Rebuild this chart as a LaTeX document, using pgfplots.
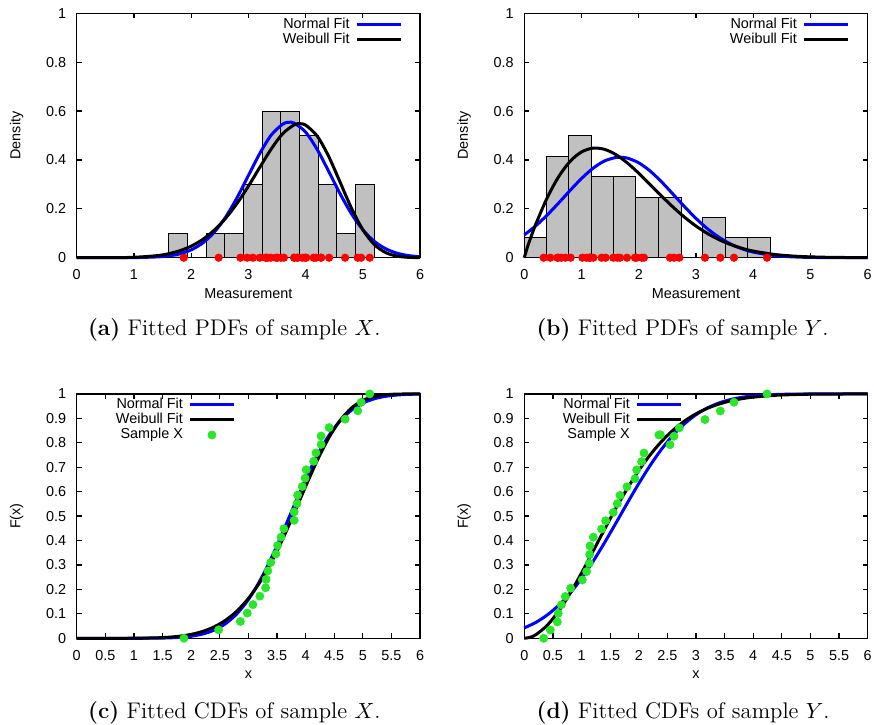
\documentclass[border=0pt]{standalone}
\usepackage{pgfplots}
\pgfplotsset{compat=1.18}
\usepackage{fontspec}
\newfontfamily\arialf{Liberation Sans}
\newcommand\lbl{\arialf\fontsize{7.2}{8.6}\selectfont}
\definecolor{bargray}{RGB}{192,192,192}
\definecolor{ptgreen}{RGB}{40,230,40}
\definecolor{fitblue}{RGB}{0,0,255}
\pgfplotsset{
  gp/.style={
    scale only axis, width=171.7pt, height=122.2pt,
    xmin=0, xmax=6, ymin=0, ymax=1, enlargelimits=false, clip=false,
    axis line style={line width=0.65pt},
    tick align=inside, tick pos=both, major tick length=2.5pt,
    every tick/.style={black, line width=0.6pt},
    /pgf/number format/assume math mode=true,
    tick label style={font=\lbl},
    xticklabel style={yshift=-2.5pt},
    yticklabel style={xshift=-1.8pt},
    label style={font=\lbl},
    ylabel style={at={(axis description cs:-0.175,0.5)}, anchor=center},
    xlabel style={at={(axis description cs:0.5,-0.1485)}, anchor=center},
    legend cell align=right,
    legend plot pos=right,
    legend image code/.code={\draw[mark repeat=2,mark phase=2,##1] plot coordinates {(0pt,0pt) (10.75pt,0pt) (21.5pt,0pt)};},
    legend style={draw=none, fill=none, font=\lbl, inner sep=0pt, row sep=0pt, column sep=2pt,
      nodes={text height=5.3pt, text depth=1.5pt, inner ysep=0.35pt, inner xsep=1pt}},
  },
  fitN/.style={color=fitblue, line width=1.5pt, smooth, no marks},
  fitW/.style={color=black, line width=1.5pt, smooth, no marks},
  hist/.style={ybar interval, fill=bargray, draw=black, line width=0.5pt, forget plot},
  reddots/.style={only marks, mark=*, mark size=1.85pt, color=red, forget plot},
  greendots/.style={only marks, mark=*, mark size=2pt, color=ptgreen},
}
\begin{document}
\begin{tikzpicture}
\useasboundingbox (0,0) rectangle (437pt,362pt);
% ---------------- (a) ----------------
\begin{axis}[gp, at={(38.35pt,233.15pt)}, anchor=south west,
  xtick={0,1,2,3,4,5,6}, ytick={0,0.2,0.4,0.6,0.8,1},
  xlabel={Measurement}, ylabel={Density},
  legend style={at={(axis description cs:0.9476,0.987)}, anchor=north east}]
\addplot[hist] coordinates {(1.61,0.1) (1.936,0) (2.262,0.1) (2.588,0.1) (2.914,0.3) (3.24,0.6) (3.566,0.6) (3.892,0.5) (4.218,0.3) (4.544,0.1) (4.87,0.3) (5.196,0)};
\addplot[fitN] coordinates {(0,0) (0.6,0.0000) (1.0,0.0004) (1.4,0.0031) (1.6,0.0073) (1.8,0.0158) (2.0,0.0320) (2.2,0.0597) (2.4,0.1032) (2.6,0.1652) (2.8,0.2449) (3.0,0.3361) (3.2,0.4269) (3.4,0.5020) (3.6,0.5465) (3.7,0.5539) (3.8,0.5507) (4.0,0.5138) (4.2,0.4437) (4.4,0.3547) (4.6,0.2625) (4.8,0.1799) (5.0,0.1141) (5.2,0.0670) (5.4,0.0364) (5.6,0.0183) (5.8,0.0085) (6.0,0.0037)};
\addlegendentry{Normal Fit}
\addplot[fitW] coordinates {(0,0) (0.6,0.0001) (1.0,0.0016) (1.4,0.0083) (1.6,0.0160) (1.8,0.0284) (2.0,0.0472) (2.2,0.0744) (2.4,0.1118) (2.6,0.1608) (2.8,0.2216) (3.0,0.2928) (3.2,0.3700) (3.4,0.4452) (3.6,0.5074) (3.8,0.5436) (3.9,0.5482) (4.0,0.5424) (4.2,0.4983) (4.4,0.4158) (4.6,0.3102) (4.8,0.2031) (5.0,0.1143) (5.2,0.0539) (5.4,0.0208) (5.6,0.0063) (5.8,0.0015) (6.0,0.0002)};
\addlegendentry{Weibull Fit}
\addplot[reddots] coordinates {(1.87,0) (2.48,0) (2.86,0) (2.98,0) (3.08,0) (3.20,0) (3.30,0) (3.31,0) (3.34,0) (3.39,0) (3.48,0) (3.51,0) (3.57,0) (3.62,0) (3.80,0) (3.80,0) (3.85,0) (3.86,0) (3.94,0) (3.99,0) (4.01,0) (4.14,0) (4.18,0) (4.27,0) (4.27,0) (4.41,0) (4.69,0) (4.91,0) (4.97,0) (5.12,0)};
\end{axis}
% ---------------- (b) ----------------
\begin{axis}[gp, at={(262.15pt,233.15pt)}, anchor=south west,
  xtick={0,1,2,3,4,5,6}, ytick={0,0.2,0.4,0.6,0.8,1},
  xlabel={Measurement}, ylabel={Density},
  legend style={at={(axis description cs:0.9465,0.987)}, anchor=north east}]
\addplot[hist] coordinates {(0,0.083) (0.39,0.416) (0.775,0.498) (1.171,0.331) (1.561,0.331) (1.951,0.248) (2.342,0.248) (2.738,0) (3.122,0.166) (3.513,0.083) (3.903,0.083) (4.293,0)};
\addplot[fitN] coordinates {(0,0.0934) (0.2,0.1304) (0.4,0.1746) (0.6,0.2238) (0.8,0.2751) (1.0,0.3240) (1.2,0.3657) (1.4,0.3957) (1.6,0.4102) (1.67,0.4113) (1.8,0.4076) (2.0,0.3882) (2.2,0.3543) (2.4,0.3099) (2.6,0.2597) (2.8,0.2087) (3.0,0.1607) (3.2,0.1185) (3.4,0.0839) (3.6,0.0568) (3.8,0.0369) (4.0,0.0230) (4.4,0.0078) (4.8,0.0023) (5.2,0.0005) (5.6,0.0001) (6.0,0.0000)};
\addlegendentry{Normal Fit}
\addplot[fitW] coordinates {(0,0) (0.05,0.0398) (0.1,0.0740) (0.2,0.1367) (0.4,0.2451) (0.6,0.3314) (0.8,0.3941) (1.0,0.4327) (1.2,0.4483) (1.4,0.4435) (1.6,0.4219) (1.8,0.3878) (2.0,0.3455) (2.2,0.2990) (2.4,0.2519) (2.6,0.2068) (2.8,0.1656) (3.0,0.1295) (3.2,0.0990) (3.4,0.0740) (3.6,0.0541) (3.8,0.0387) (4.0,0.0271) (4.4,0.0125) (4.8,0.0053) (5.2,0.0021) (5.6,0.0008) (6.0,0.0003)};
\addlegendentry{Weibull Fit}
\addplot[reddots] coordinates {(0.338,0) (0.454,0) (0.577,0) (0.594,0) (0.647,0) (0.717,0) (0.810,0) (1.014,0) (1.089,0) (1.136,0) (1.142,0) (1.148,0) (1.206,0) (1.351,0) (1.421,0) (1.555,0) (1.625,0) (1.672,0) (1.794,0) (1.934,0) (1.963,0) (2.050,0) (2.091,0) (2.546,0) (2.616,0) (2.709,0) (3.157,0) (3.425,0) (3.664,0) (4.241,0)};
\end{axis}
% ---------------- (c) ----------------
\begin{axis}[gp, at={(38.35pt,42.85pt)}, anchor=south west,
  xtick={0,0.5,1,1.5,2,2.5,3,3.5,4,4.5,5,5.5,6}, ytick={0,0.1,0.2,0.3,0.4,0.5,0.6,0.7,0.8,0.9,1},
  xlabel={x}, ylabel={F(x)},
  legend style={at={(axis description cs:0.462,0.987)}, anchor=north east}]
\addplot[fitN] coordinates {(0,0) (1.0,0.0001) (1.4,0.0006) (1.6,0.0016) (1.8,0.0038) (2.0,0.0085) (2.2,0.0174) (2.4,0.0334) (2.6,0.0599) (2.8,0.1006) (3.0,0.1587) (3.2,0.2351) (3.4,0.3284) (3.6,0.4338) (3.8,0.5442) (4.0,0.6513) (4.2,0.7475) (4.4,0.8275) (4.6,0.8892) (4.8,0.9332) (5.0,0.9623) (5.2,0.9801) (5.4,0.9902) (5.6,0.9955) (5.8,0.9981) (6.0,0.9992)};
\addlegendentry{Normal Fit}
\addplot[fitW] coordinates {(0,0) (1.0,0.0003) (1.4,0.0020) (1.6,0.0043) (1.8,0.0087) (2.0,0.0161) (2.2,0.0281) (2.4,0.0466) (2.6,0.0736) (2.8,0.1116) (3.0,0.1630) (3.2,0.2292) (3.4,0.3108) (3.6,0.4064) (3.8,0.5120) (4.0,0.6213) (4.2,0.7261) (4.4,0.8180) (4.6,0.8908) (4.8,0.9420) (5.0,0.9733) (5.2,0.9896) (5.4,0.9967) (5.6,0.9992) (5.8,0.9998) (6.0,1.0)};
\addlegendentry{Weibull Fit}
\addplot[greendots] coordinates {(1.874,0) (2.48,0.0345) (2.86,0.069) (2.98,0.1034) (3.08,0.1379) (3.20,0.1724) (3.30,0.2069) (3.31,0.2414) (3.34,0.2759) (3.39,0.3103) (3.48,0.3448) (3.51,0.3793) (3.57,0.4138) (3.62,0.4483) (3.80,0.4828) (3.80,0.5172) (3.85,0.5517) (3.86,0.5862) (3.94,0.6207) (3.99,0.6552) (4.01,0.6897) (4.14,0.7241) (4.18,0.7586) (4.27,0.7931) (4.27,0.8276) (4.41,0.8621) (4.69,0.8966) (4.91,0.9310) (4.97,0.9655) (5.12,1.0)};
\addlegendentry{Sample X}
\end{axis}
% ---------------- (d) ----------------
\begin{axis}[gp, at={(262.15pt,42.85pt)}, anchor=south west,
  xtick={0,0.5,1,1.5,2,2.5,3,3.5,4,4.5,5,5.5,6}, ytick={0,0.1,0.2,0.3,0.4,0.5,0.6,0.7,0.8,0.9,1},
  xlabel={x}, ylabel={F(x)},
  legend style={at={(axis description cs:0.46,0.987)}, anchor=north east}]
\addplot[fitN] coordinates {(0,0.0426) (0.2,0.0648) (0.4,0.0952) (0.6,0.1350) (0.8,0.1849) (1.0,0.2449) (1.2,0.3140) (1.4,0.3904) (1.6,0.4712) (1.8,0.5533) (2.0,0.6331) (2.2,0.7076) (2.4,0.7742) (2.6,0.8312) (2.8,0.8780) (3.0,0.9148) (3.2,0.9426) (3.4,0.9627) (3.6,0.9767) (3.8,0.9860) (4.0,0.9918) (4.4,0.9976) (4.8,0.9994) (5.2,0.9999) (6.0,1.0)};
\addlegendentry{Normal Fit}
\addplot[fitW] coordinates {(0,0) (0.1,0.0039) (0.2,0.0145) (0.4,0.0530) (0.6,0.1111) (0.8,0.1840) (1.0,0.2671) (1.2,0.3556) (1.4,0.4450) (1.6,0.5318) (1.8,0.6130) (2.0,0.6864) (2.2,0.7509) (2.4,0.8060) (2.6,0.8518) (2.8,0.8890) (3.0,0.9184) (3.2,0.9411) (3.4,0.9583) (3.6,0.9711) (3.8,0.9803) (4.0,0.9868) (4.4,0.9944) (4.8,0.9978) (5.2,0.9992) (6.0,0.9999)};
\addlegendentry{Weibull Fit}
\addplot[greendots] coordinates {(0.338,0) (0.454,0.034) (0.577,0.067) (0.594,0.102) (0.647,0.137) (0.717,0.171) (0.810,0.205) (1.014,0.239) (1.089,0.273) (1.136,0.307) (1.142,0.343) (1.148,0.378) (1.206,0.414) (1.351,0.447) (1.421,0.481) (1.555,0.515) (1.625,0.551) (1.672,0.585) (1.794,0.620) (1.934,0.653) (1.963,0.689) (2.050,0.723) (2.091,0.758) (2.377,0.833) (2.546,0.792) (2.616,0.827) (2.709,0.861) (3.157,0.895) (3.425,0.930) (3.664,0.966) (4.241,1.0)};
\addlegendentry{Sample X}
\end{axis}
% ---------------- captions ----------------
\begin{scope}[font=\fontsize{11.3}{13.5}\selectfont]
\node[anchor=base east, inner sep=0pt] at (190.5pt,194pt) {\textbf{(a)} Fitted PDFs of sample $X$.};
\node[anchor=base east, inner sep=0pt] at (414.5pt,194pt) {\textbf{(b)} Fitted PDFs of sample $Y$.};
\node[anchor=base east, inner sep=0pt] at (190.5pt,2.6pt) {\textbf{(c)} Fitted CDFs of sample $X$.};
\node[anchor=base east, inner sep=0pt] at (415pt,2.6pt) {\textbf{(d)} Fitted CDFs of sample $Y$.};
\end{scope}
\end{tikzpicture}
\end{document}
